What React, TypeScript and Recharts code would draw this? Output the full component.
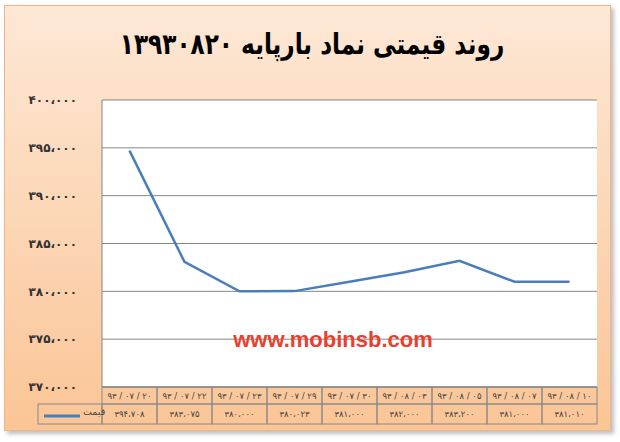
import React from 'react';
import { LineChart, Line, XAxis, YAxis, CartesianGrid } from 'recharts';

// تاریخ‌ها و قیمت پایانی نماد بارپایه
const dates = ['۹۳ / ۰۷ / ۲۰', '۹۳ / ۰۷ / ۲۲', '۹۳ / ۰۷ / ۲۳', '۹۳ / ۰۷ / ۲۹', '۹۳ / ۰۷ / ۳۰', '۹۳ / ۰۸ / ۰۳', '۹۳ / ۰۸ / ۰۵', '۹۳ / ۰۸ / ۰۷', '۹۳ / ۰۸ / ۱۰'];
const prices = [394708, 383075, 380000, 380023, 381000, 382000, 383200, 381000, 381010];
const yTicks = [370000, 375000, 380000, 385000, 390000, 395000, 400000];
const seriesName = 'قیمت';
const title = 'روند قیمتی نماد بارپایه ۱۳۹۳۰۸۲۰';

const data = dates.map((date, i) => ({ date, price: prices[i] }));

const faDigits = '۰۱۲۳۴۵۶۷۸۹';
const toFa = (s: string) => s.replace(/[0-9]/g, (d) => faDigits[+d]);
const fmt = (v: number) => {
  const t = Math.floor(v / 1000);
  const r = String(v % 1000).padStart(3, '0');
  return toFa(`${t}`) + '،' + toFa(r);
};

const CELL = 55;
const ROW1 = 17;
const ROW2 = 20;
const FONT = "'DejaVu Sans', sans-serif";

const TableTick = (props: any) => {
  const { x, y, payload, index } = props;
  const left = x - CELL / 2;
  return (
    <g>
      <rect x={left} y={y} width={CELL} height={ROW1} fill="none" stroke="#8a8a8a" />
      <rect x={left} y={y + ROW1} width={CELL} height={ROW2} fill="none" stroke="#8a8a8a" />
      <text x={x} y={y + 12} textAnchor="middle" fontSize={8.5} fill="#444" fontFamily={FONT}>
        {payload.value}
      </text>
      <text x={x} y={y + ROW1 + 13} textAnchor="middle" fontSize={8.5} fill="#444" fontFamily={FONT}>
        {fmt(prices[index])}
      </text>
      {index === 0 && (
        <g>
          <rect x={38} y={y + ROW1} width={left - 38} height={ROW2} fill="none" stroke="#8a8a8a" />
          <line x1={44} x2={80} y1={y + ROW1 + 12} y2={y + ROW1 + 12} stroke="#4a7ebb" strokeWidth={3} />
          <text x={83} y={y + ROW1 + 11} fontSize={9.5} fill="#444" fontFamily={FONT}>
            {seriesName}
          </text>
        </g>
      )}
    </g>
  );
};

export default function App() {
  return (
    <div style={{ position: 'absolute', left: 0, top: 0, width: 620, height: 442, background: '#fff' }}>
      <div
        style={{
          position: 'absolute',
          left: 4,
          top: 5,
          width: 605,
          height: 424,
          background: 'linear-gradient(to bottom, #fde8d6, #fbc596)',
          border: '1px solid #f2b585',
          boxShadow: '3px 3px 4px rgba(0,0,0,0.25)',
        }}
      />
      <div
        style={{
          position: 'absolute',
          left: 0,
          top: 27,
          width: 624,
          textAlign: 'center',
          direction: 'rtl',
          fontFamily: FONT,
          fontWeight: 'bold',
          fontSize: 29,
          color: '#000',
          transform: 'scaleX(0.8)',
          transformOrigin: '312px 0',
        }}
      >
        {title}
      </div>
      <div style={{ position: 'absolute', left: 0, top: 0 }}>
        <LineChart width={620} height={442} data={data} margin={{ top: 100, right: 23, left: 12, bottom: 0 }}>
          <CartesianGrid vertical={false} stroke="#868686" fill="#fff" />
          <XAxis
            dataKey="date"
            height={55}
            padding={{ left: CELL / 2, right: CELL / 2 }}
            axisLine={{ stroke: '#868686' }}
            tickLine={false}
            tickSize={0}
            tickMargin={0}
            interval={0}
            tick={<TableTick />}
          />
          <YAxis
            domain={[370000, 400000]}
            ticks={yTicks}
            tickFormatter={fmt}
            width={90}
            axisLine={{ stroke: '#868686' }}
            tickLine={false}
            tickSize={0}
            tickMargin={25}
            tick={{ fontSize: 12, fontWeight: 'bold', fill: '#333', fontFamily: FONT }}
          />
          <Line
            dataKey="price"
            name={seriesName}
            type="linear"
            stroke="#4a7ebb"
            strokeWidth={2.5}
            dot={false}
            isAnimationActive={false}
          />
        </LineChart>
      </div>
      <div
        style={{
          position: 'absolute',
          left: 213,
          top: 327,
          width: 240,
          textAlign: 'center',
          fontFamily: "'Liberation Sans', Arial, sans-serif",
          fontWeight: 'bold',
          fontSize: 22,
          color: '#e8412f',
        }}
      >
        www.mobinsb.com
      </div>
    </div>
  );
}
